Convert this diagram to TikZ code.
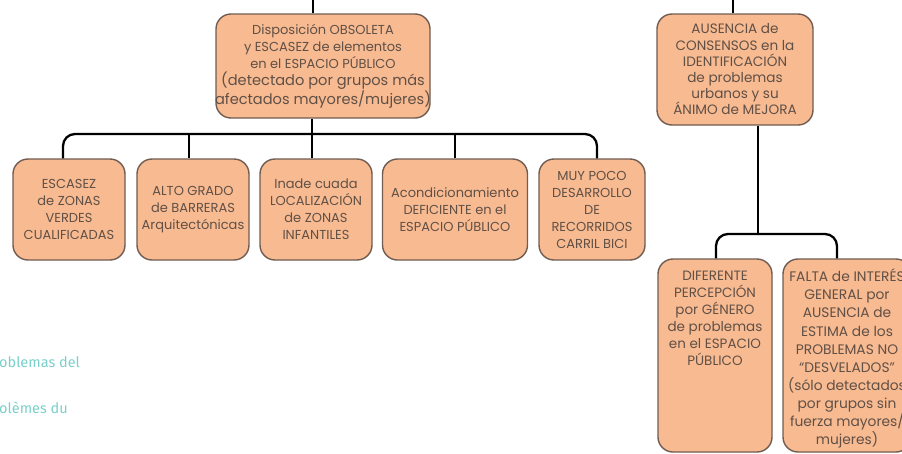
\documentclass[tikz,border=0pt]{standalone}
\usepackage{fontspec}
\setmainfont{Poppins}
\newfontfamily\sidefont{Fira Sans}
\definecolor{boxfill}{RGB}{248,186,145}
\definecolor{boxline}{RGB}{112,92,80}
\definecolor{boxtext}{RGB}{96,80,70}
\definecolor{sideteal}{RGB}{122,208,202}
\begin{document}
\begin{tikzpicture}[x=1pt, y=-1pt,
  probbox/.style={draw=boxline, fill=boxfill, line width=1.4pt, rounded corners=15pt,
    text=boxtext, align=center, inner sep=2pt,
    font=\fontsize{13}{17}\selectfont},
  link/.style={draw=black, line width=2.3pt, rounded corners=12pt},
  sidetext/.style={text=sideteal, anchor=west, inner sep=0pt, font=\sidefont\fontsize{14.5}{17}\selectfont}]
\useasboundingbox (0,0) rectangle (902,453);
% top boxes
\node[probbox, minimum width=214, minimum height=104] (obs) at (323,66) {Disposición OBSOLETA\\y ESCASEZ de elementos\\en el ESPACIO PÚBLICO\\{\fontsize{14.6}{18}\selectfont(detectado por grupos más}\\{\fontsize{14.6}{18}\selectfont\makebox[0pt]{afectados mayores/mujeres)}}};
\node[probbox, minimum width=156, minimum height=111, font=\fontsize{13.6}{16.2}\selectfont] (aus) at (735,69.5) {AUSENCIA de\\CONSENSOS en la\\IDENTIFICACIÓN\\de problemas\\urbanos y su\\\makebox[0pt]{ÁNIMO de MEJORA}};
% left children
\node[probbox, minimum width=112, minimum height=101] (zon) at (69,209.5) {ESCASEZ\\de ZONAS\\VERDES\\\makebox[0pt]{CUALIFICADAS}};
\node[probbox, minimum width=112, minimum height=101] (bar) at (193,209.5) {ALTO GRADO\\de BARRERAS\\Arquitectónicas};
\node[probbox, minimum width=112, minimum height=101] (inf) at (316,209.5) {Inade cuada\\\makebox[0pt]{LOCALIZACIÓN}\\de ZONAS\\INFANTILES};
\node[probbox, minimum width=145, minimum height=101] (aco) at (455,209.5) {Acondicionamiento\\DEFICIENTE en el\\ESPACIO PÚBLICO};
\node[probbox, minimum width=106, minimum height=101] (bic) at (592,209.5) {MUY POCO\\DESARROLLO\\DE\\RECORRIDOS\\CARRIL BICI};
% right children
\node[probbox, minimum width=114, minimum height=193, font=\fontsize{13.5}{17}\selectfont] (gen) at (715,355.5) {\parbox[c][185pt][t]{110pt}{\centering\vspace*{8pt}DIFERENTE\\PERCEPCIÓN\\por GÉNERO\\de problemas\\en el ESPACIO\\PÚBLICO}};
\node[probbox, minimum width=128, minimum height=193, font=\fontsize{13.8}{18.1}\selectfont] (fal) at (847,355.5) {\parbox[c][187pt][t]{124pt}{\centering\vspace*{7pt}\makebox[0pt]{FALTA de INTERÉS}\\GENERAL por\\AUSENCIA de\\ESTIMA de los\\\makebox[0pt]{PROBLEMAS NO}\\“DESVELADOS”\\\makebox[0pt]{(sólo detectados}\\por grupos sin\\\makebox[0pt]{fuerza mayores/}\\mujeres)}};
% side text
\node[sidetext] (sa) at (-1,362) {oblemas del};
\node[sidetext] (sb) at (-1,408) {olèmes du};
% connectors
\coordinate (topA) at (313,0);
\coordinate (topB) at (733,0);
\coordinate (barA) at (312,134);
\coordinate (barB) at (758,234);
\path[link] (obs.north -| topA) -- (topA);
\path[link] (aus.north -| topB) -- (topB);
\path[link] (obs.south -| barA) -- (inf.north -| barA);
\path[link] (zon.north) ++(-6,0) |- (barA) -| ([xshift=5]bic.north);
\path[link] ([xshift=-4]bar.north) -- ([xshift=-4]bar.north |- barA);
\path[link] (aco.north) -- (aco.north |- barA);
\path[link] (aus.south -| barB) -- (barB);
\path[link] (gen.north) ++(1,0) |- (barB) -| ([xshift=-10]fal.north);
\end{tikzpicture}
\end{document}
